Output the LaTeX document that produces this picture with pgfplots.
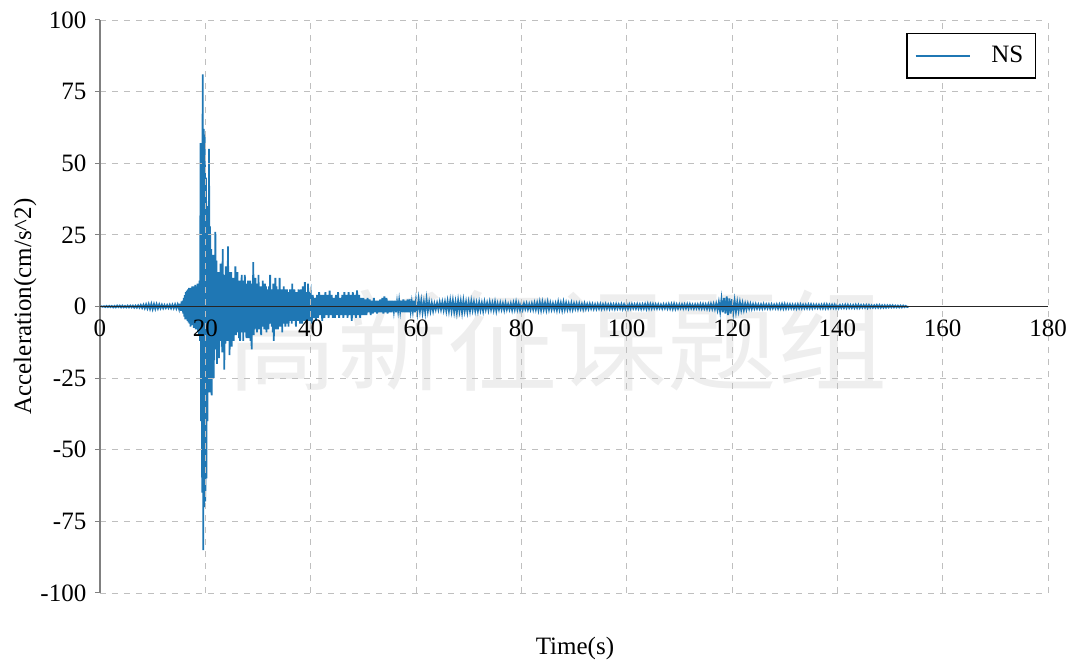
\documentclass[border=0pt]{standalone}
\usepackage{pgfplots}
\pgfplotsset{compat=1.18}
\usepackage{fontspec}
\setmainfont{Liberation Serif}
\newfontfamily\cjk{Noto Sans CJK SC}
\definecolor{tabblue}{HTML}{1F77B4}
\begin{document}
\fontsize{12.5}{15}\selectfont
\begin{tikzpicture}
\path[use as bounding box] (-50pt,-39.5pt) rectangle (490pt,296.5pt);
\node[text=gray!13, font=\cjk\fontsize{55}{60}\selectfont] at (228.5pt,126.5pt) {高新征课题组};
\begin{axis}[
  at={(0,0)}, anchor=south west, scale only axis,
  width=474pt, height=286.5pt,
  xmin=0, xmax=180, ymin=-100, ymax=100,
  axis x line=bottom, axis y line=left,
  axis line style={-},
  x axis line style={draw=none},
  y axis line style={gray, line width=0.7pt},
  xtick={0,20,...,180}, ytick={-100,-75,-50,-25,25,50,75,100},
  extra y ticks={0}, extra y tick labels={0},
  extra y tick style={grid=major, major grid style={solid, black!85, line width=0.6pt}},
  tick align=outside, major tick length=2.5pt,
  x tick style={draw=none},
  y tick style={gray, line width=0.5pt},
  xticklabel style={yshift=143.25pt},
  grid=major, major grid style={dashed, gray!50, line width=0.4pt},
  axis on top,
  /pgf/number format/assume math mode=true,
  ticklabel style={font=\fontsize{12.5}{15}\selectfont},
  xlabel={Time(s)},
  ylabel={Acceleration(cm/s\textasciicircum 2)},
  label style={font=\fontsize{12.5}{15}\selectfont},
  xlabel style={at={(axis description cs:0.501,-0.096)}, anchor=center},
  ylabel style={at={(axis description cs:-0.079,0.5)}, anchor=center},
  legend style={at={(axis description cs:0.9873,0.9773)}, anchor=north east,
    draw=black, line width=0.7pt, font=\fontsize{12.5}{15}\selectfont,
    inner xsep=4pt, inner ysep=4pt, cells={anchor=west}},
  legend image code/.code={\draw[#1, line width=0.75pt] (0pt,0pt) -- (27pt,0pt);},
]
\addplot[tabblue, line width=0.9pt] coordinates {
(0,0) (0.25,0.1) (0.5,-0.1) (0.75,0.1) (1,-0.2) (1.25,0.2) (1.5,-0.2) (1.75,0.2) (2,-0.2) (2.25,0.2)
(2.5,-0.3) (2.75,0.2) (3,-0.3) (3.25,0.3) (3.5,-0.2) (3.75,0.3) (4,-0.3) (4.25,0.3) (4.5,-0.3) (4.75,0.2)
(5,-0.3) (5.25,0.3) (5.5,-0.3) (5.75,0.3) (6,-0.3) (6.25,0.3) (6.5,-0.4) (6.75,0.3) (7,-0.4) (7.25,0.4)
(7.5,-0.4) (7.75,0.5) (8,-0.5) (8.25,0.6) (8.5,-0.6) (8.75,0.7) (9,-0.7) (9.25,0.8) (9.5,-0.8) (9.75,0.9)
(10,-0.9) (10.25,0.8) (10.5,-0.8) (10.75,0.8) (11,-0.7) (11.25,0.7) (11.5,-0.6) (11.75,0.6) (12,-0.6) (12.25,0.5)
(12.5,-0.5) (12.75,0.5) (13,-0.5) (13.25,0.6) (13.5,-0.6) (13.75,0.6) (14,-0.6) (14.25,0.7) (14.5,-0.7) (14.75,0.7)
(15.0,-0.8) (15.1,1.0) (15.2,-1.2) (15.3,1.0) (15.4,-1.5) (15.5,1.8) (15.6,-1.5) (15.7,2.0) (15.8,-2.5) (15.9,3.0)
(16.0,-3.5) (16.1,4.0) (16.2,-4.5) (16.3,5.0) (16.4,-4.0) (16.5,5.5) (16.6,-5.0) (16.7,6.0) (16.8,-5.5) (16.9,6.5)
(17.0,-6.0) (17.1,5.0) (17.2,-7.0) (17.3,6.5) (17.4,-5.5) (17.5,7.0) (17.6,-6.5) (17.7,6.0) (17.8,-7.5) (17.9,7.0)
(18.0,-6.0) (18.1,7.5) (18.2,-8.0) (18.3,6.5) (18.4,-7.0) (18.5,8.0) (18.6,-9.0) (18.7,7.0) (18.8,-10.0) (18.9,9.0)
(19.0,-12) (19.1,57) (19.2,-40) (19.3,57) (19.4,-65) (19.5,81) (19.6,-85) (19.7,62) (19.8,-70) (19.9,60)
(20.0,-68) (20.1,45) (20.2,-60) (20.3,35) (20.4,-40) (20.5,30) (20.6,-25) (20.7,55) (20.8,-30) (20.9,28)
(21.0,-22) (21.1,20) (21.2,-31) (21.3,15) (21.4,-20) (21.5,18) (21.6,-25) (21.7,12) (21.8,-15) (21.9,26)
(22.0,-12) (22.1,16) (22.2,-20) (22.3,10) (22.4,-14) (22.5,12) (22.6,-18) (22.7,9) (22.8,-12) (22.9,15)
(23.0,-10) (23.1,13) (23.2,-16) (23.3,20) (23.4,-14) (23.5,11) (23.6,-22) (23.7,9) (23.8,-13) (23.9,14)
(24.0,-10) (24.1,8) (24.2,-12) (24.3,21) (24.4,-9) (24.5,12) (24.6,-17) (24.7,10) (24.8,-8) (24.9,12)
(25.0,-14) (25.1,7) (25.2,-10) (25.3,10) (25.4,-12) (25.5,8) (25.6,-7) (25.7,14) (25.8,-10) (25.9,9)
(26.0,-8) (26.1,12) (26.2,-9) (26.3,7) (26.4,-11) (26.5,9) (26.6,-12) (26.7,8) (26.8,-9) (26.9,11)
(27.0,-7) (27.1,9) (27.2,-12) (27.3,6) (27.4,-8) (27.5,11) (27.6,-9) (27.7,7) (27.8,-11) (27.9,8)
(28.0,-6) (28.1,9) (28.2,-11) (28.3,7) (28.4,-8) (28.5,9) (28.6,-12) (28.7,6) (28.8,-15) (28.9,8)
(29.0,-6) (29.1,15.5) (29.2,-10) (29.3,9) (29.4,-8) (29.5,10) (29.6,-7) (29.7,8) (29.8,-9) (29.9,7)
(30.0,-6) (30.1,11) (30.2,-8) (30.3,6) (30.4,-7) (30.5,7) (30.6,-10) (30.7,5) (30.8,-6) (30.9,9)
(31.0,-7) (31.1,6) (31.2,-8) (31.3,8) (31.4,-5) (31.5,7) (31.6,-9) (31.7,5) (31.8,-6) (31.9,6)
(32.0,-8) (32.1,7) (32.2,-5) (32.3,11) (32.4,-6) (32.5,6) (32.6,-7) (32.7,5) (32.8,-9) (32.9,8)
(33.0,-12) (33.1,6) (33.2,-7) (33.3,10) (33.4,-8) (33.5,7) (33.6,-6) (33.7,5) (33.8,-8) (33.9,6)
(34.0,-5) (34.1,10) (34.2,-7) (34.3,5) (34.4,-6) (34.5,6) (34.6,-9) (34.7,4) (34.8,-5) (34.9,7)
(35.0,-6) (35.1,5) (35.2,-7) (35.3,6) (35.4,-4) (35.5,6) (35.6,-6) (35.7,4) (35.8,-7) (35.9,5)
(36.0,-5) (36.1,6) (36.2,-4) (36.3,5) (36.4,-6) (36.5,8) (36.6,-5) (36.7,4) (36.8,-5) (36.9,6)
(37.0,-4) (37.1,5) (37.2,-7) (37.3,4) (37.4,-5) (37.5,5) (37.6,-4) (37.7,6) (37.8,-5) (37.9,4)
(38.0,-6) (38.1,6) (38.2,-4) (38.3,5) (38.4,-6) (38.5,7) (38.6,-4) (38.7,5) (38.8,-5) (38.9,8.5)
(39.0,-4) (39.1,5) (39.2,-6) (39.3,4) (39.4,-5) (39.5,8) (39.6,-4) (39.7,5) (39.8,-5) (39.9,4)
(40.0,5) (40.2,-6) (40.4,4) (40.6,-4) (40.8,3) (41.0,-5) (41.2,4) (41.4,-4) (41.6,5) (41.8,-3)
(42.0,4) (42.2,-5) (42.4,4) (42.6,-4) (42.8,5) (43.0,-3) (43.2,4) (43.4,-4) (43.6,5.5) (43.8,-3)
(44.0,4) (44.2,-4) (44.4,3) (44.6,-4) (44.8,4) (45.0,-3) (45.2,5) (45.4,-4) (45.6,3) (45.8,-3)
(46.0,4) (46.2,-4) (46.4,5) (46.6,-3) (46.8,4) (47.0,-4) (47.2,5) (47.4,-3) (47.6,4) (47.8,-5)
(48.0,5) (48.2,-3) (48.4,4) (48.6,-4) (48.8,5.6) (49.0,-3) (49.2,4) (49.4,-4) (49.6,3) (49.8,-3)
(50.0,3) (50.2,-3) (50.4,2.5) (50.6,-3) (50.8,3) (51.0,-2) (51.2,2.5) (51.4,-3) (51.6,2) (51.8,-2.5)
(52.0,3) (52.2,-2) (52.4,2) (52.6,-2.5) (52.8,2) (53.0,-2) (53.2,2.5) (53.4,-2) (53.6,3) (53.8,-2.5)
(54.0,3.5) (54.2,-2) (54.4,3) (54.6,-2.5) (54.8,2) (55.0,-2) (55.2,2) (55.4,-2) (55.6,2) (55.8,-1.5)
(56.0,2) (56.2,-2) (56.4,1.5) (56.6,-1.5) (56.8,2) (57.0,-1.5) (57.2,2) (57.4,-2) (57.6,2.5) (57.8,-2)
(58.0,2) (58.2,-2) (58.4,2.5) (58.6,-2) (58.8,2.5) (59.0,-1.5) (59.2,1.5) (59.4,-1.5) (59.6,2) (59.8,-2)
(60,2) (60.25,-2) (60.5,2.5) (60.75,-1.5) (61,2) (61.25,-2) (61.5,1.5) (61.75,-2) (62,2.5) (62.25,-1.5) (62.5,1.5)
(62.75,-1.5) (63,1.2) (63.25,-1.5) (63.5,1) (63.75,-1) (64,1.2) (64.25,-1) (64.5,1.5) (64.75,-1) (65,1.5)
(65.25,-1.2) (65.5,1.5) (65.75,-1.5) (66,1.8) (66.25,-1.5) (66.5,2) (66.75,-1.5) (67,2) (67.25,-1.8) (67.5,1.5)
(67.75,-2) (68,2) (68.25,-1.5) (68.5,1.8) (68.75,-2) (69,2) (69.25,-1.5) (69.5,1.5) (69.75,-1.8) (70,1.5)
(70.25,-1.5) (70.5,1.8) (70.75,-1.2) (71,1.5) (71.25,-1.5) (71.5,1.2) (71.75,-1.5) (72,1.5) (72.25,-1.2) (72.5,1.2)
(72.75,-1.5) (73,1.5) (73.25,-1) (73.5,1.2) (73.75,-1.2) (74,1.5) (74.25,-1) (74.5,1.2) (74.75,-1.2) (75,1.5)
(75.25,-1.5) (75.5,1) (75.75,-1) (76,1.2) (76.25,-1) (76.5,1) (76.75,-1.2) (77,1.2) (77.25,-1) (77.5,0.8)
(77.75,-1) (78,1) (78.25,-1.2) (78.5,1.2) (78.75,-1) (79,1.5) (79.25,-1) (79.5,1) (79.75,-1.2) (80,1)
(80.25,-1) (80.5,1) (80.75,-0.8) (81,1) (81.25,-1) (81.5,0.8) (81.75,-1) (82,1) (82.25,-1) (82.5,1.2)
(82.75,-1) (83,1.2) (83.25,-1.2) (83.5,1.5) (83.75,-1.2) (84,1.5) (84.25,-1) (84.5,1.2) (84.75,-1.2) (85,1.5)
(85.25,-1) (85.5,1.2) (85.75,-1) (86,1) (86.25,-1) (86.5,1) (86.75,-1.2) (87,1.5) (87.25,-1) (87.5,1.2)
(87.75,-1.2) (88,1.5) (88.25,-1) (88.5,1.2) (88.75,-1) (89,1) (89.25,-1) (89.5,1.2) (89.75,-1) (90,1)
(90.25,-0.8) (90.5,1) (90.75,-0.9) (91,1) (91.25,-0.8) (91.5,0.8) (91.75,-0.9) (92,1) (92.25,-0.8) (92.5,0.8)
(92.75,-0.8) (93,0.9) (93.25,-0.7) (93.5,0.8) (93.75,-0.8) (94,0.7) (94.25,-0.8) (94.5,0.8) (94.75,-0.7) (95,0.8)
(95.25,-0.8) (95.5,0.7) (95.75,-0.7) (96,0.8) (96.25,-0.7) (96.5,0.7) (96.75,-0.8) (97,0.8) (97.25,-0.7) (97.5,0.7)
(97.75,-0.8) (98,0.8) (98.25,-0.7) (98.5,0.7) (98.75,-0.7) (99,0.8) (99.25,-0.8) (99.5,0.7) (99.75,-0.7) (100,0.8)
(100.25,-0.8) (100.5,0.7) (100.75,-0.7) (101,0.8) (101.25,-0.6) (101.5,0.7) (101.75,-0.7) (102,0.8) (102.25,-0.7) (102.5,0.7)
(102.75,-0.8) (103,0.7) (103.25,-0.7) (103.5,0.8) (103.75,-0.8) (104,0.9) (104.25,-0.7) (104.5,0.8) (104.75,-0.7) (105,0.8)
(105.25,-0.6) (105.5,0.7) (105.75,-0.7) (106,0.7) (106.25,-0.6) (106.5,0.6) (106.75,-0.7) (107,0.7) (107.25,-0.6) (107.5,0.7)
(107.75,-0.7) (108,0.8) (108.25,-0.7) (108.5,0.8) (108.75,-0.8) (109,0.9) (109.25,-0.8) (109.5,0.7) (109.75,-0.7) (110,0.7)
(110.25,-0.6) (110.5,0.7) (110.75,-0.7) (111,0.7) (111.25,-0.6) (111.5,0.8) (111.75,-0.7) (112,0.8) (112.25,-0.6) (112.5,0.6)
(112.75,-0.7) (113,0.7) (113.25,-0.6) (113.5,0.7) (113.75,-0.7) (114,0.8) (114.25,-0.7) (114.5,0.8) (114.75,-0.7) (115,0.7)
(115.25,-0.8) (115.5,0.8) (115.75,-0.8) (116,0.9) (116.25,-0.8) (116.5,0.9) (116.75,-0.9) (117,1.0) (117.25,-1.2) (117.5,1.5)
(117.75,-1.8) (118,2.5) (118.25,-2) (118.5,3) (118.75,-2.5) (119,3.5) (119.25,-3) (119.5,2.8) (119.75,-2.5) (120,2.5)
(120.25,-2) (120.5,2) (120.75,-1.8) (121,1.5) (121.25,-1.5) (121.5,1.5) (121.75,-1.2) (122,1.2) (122.25,-1.2) (122.5,1)
(122.75,-1) (123,1) (123.25,-0.8) (123.5,0.9) (123.75,-0.8) (124,0.8) (124.25,-0.7) (124.5,0.8) (124.75,-0.7) (125,0.7)
(125.25,-0.7) (125.5,0.7) (125.75,-0.7) (126,0.8) (126.25,-0.6) (126.5,0.7) (126.75,-0.6) (127,0.7) (127.25,-0.7) (127.5,0.7)
(127.75,-0.6) (128,0.6) (128.25,-0.6) (128.5,0.7) (128.75,-0.7) (129,0.7) (129.25,-0.7) (129.5,0.8) (129.75,-0.7) (130,0.8)
(130.25,-0.7) (130.5,0.7) (130.75,-0.6) (131,0.7) (131.25,-0.6) (131.5,0.6) (131.75,-0.7) (132,0.6) (132.25,-0.7) (132.5,0.7)
(132.75,-0.6) (133,0.7) (133.25,-0.6) (133.5,0.6) (133.75,-0.6) (134,0.6) (134.25,-0.6) (134.5,0.7) (134.75,-0.6) (135,0.7)
(135.25,-0.6) (135.5,0.6) (135.75,-0.5) (136,0.6) (136.25,-0.5) (136.5,0.6) (136.75,-0.6) (137,0.6) (137.25,-0.6) (137.5,0.7)
(137.75,-0.6) (138,0.7) (138.25,-0.6) (138.5,0.6) (138.75,-0.5) (139,0.6) (139.25,-0.5) (139.5,0.6) (139.75,-0.6) (140,0.6)
(140.25,-0.6) (140.5,0.5) (140.75,-0.5) (141,0.5) (141.25,-0.5) (141.5,0.6) (141.75,-0.5) (142,0.6) (142.25,-0.5) (142.5,0.5)
(142.75,-0.5) (143,0.5) (143.25,-0.5) (143.5,0.6) (143.75,-0.5) (144,0.6) (144.25,-0.5) (144.5,0.5) (144.75,-0.4) (145,0.5)
(145.25,-0.4) (145.5,0.5) (145.75,-0.5) (146,0.5) (146.25,-0.4) (146.5,0.4) (146.75,-0.4) (147,0.4) (147.25,-0.4) (147.5,0.5)
(147.75,-0.4) (148,0.5) (148.25,-0.4) (148.5,0.4) (148.75,-0.4) (149,0.4) (149.25,-0.4) (149.5,0.4) (149.75,-0.3) (150,0.4)
(150.25,-0.3) (150.5,0.4) (150.75,-0.3) (151,0.3) (151.25,-0.3) (151.5,0.3) (151.75,-0.3) (152,0.3) (152.25,-0.3) (152.5,0.3)
(152.75,-0.2) (153,0.2) (153.25,-0.2) (153.5,0)
};
\addlegendentry{\hspace{8.5pt}NS}
\end{axis}
\end{tikzpicture}
\end{document}
